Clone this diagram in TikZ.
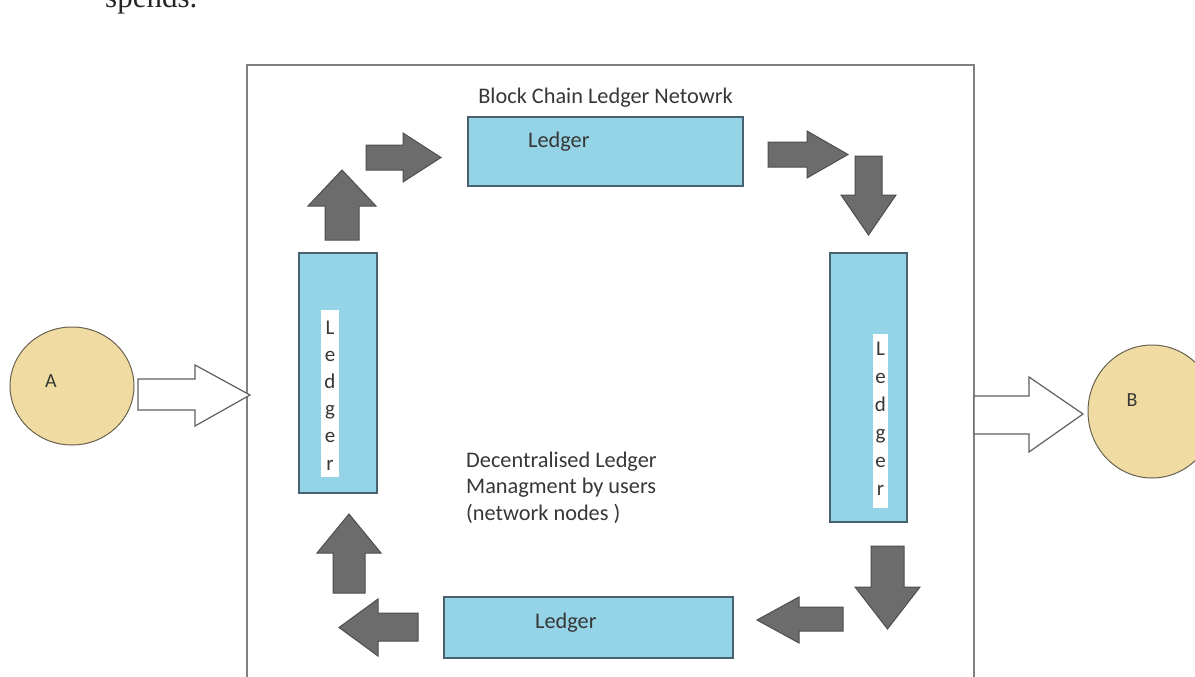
\documentclass[tikz,border=0pt]{standalone}
\usepackage{fontspec}
\setmainfont{Carlito}
\newfontfamily\pagefont{Liberation Serif}
\usetikzlibrary{shapes.geometric}
\definecolor{ledgerfill}{RGB}{148,212,230}
\definecolor{ledgerline}{RGB}{72,98,112}
\definecolor{arrowfill}{RGB}{108,108,108}
\definecolor{arrowline}{RGB}{78,78,78}
\definecolor{circfill}{RGB}{240,220,162}
\definecolor{circline}{RGB}{105,98,80}
\definecolor{frameline}{RGB}{128,128,128}
\definecolor{hollowline}{RGB}{96,96,96}
\definecolor{txt}{RGB}{55,55,55}
\tikzset{
  ledger/.style={draw=ledgerline, fill=ledgerfill, line width=1.5pt, inner sep=0pt, outer sep=0pt, anchor=north west},
  blockarrow/.style={draw=arrowline, fill=arrowfill, line width=1pt, line join=miter},
  hollowarrow/.style={draw=hollowline, fill=white, line width=1.2pt, line join=miter},
  party/.style={ellipse, draw=circline, fill=circfill, line width=1pt, inner sep=0pt},
  lbl/.style={text=txt, font=\fontsize{22.3}{26.5}\selectfont, inner sep=0pt},
  vword/.style={text=txt, align=center, inner sep=0pt, anchor=base},
  strip/.style={fill=white, draw=none},
  frame/.style={draw=frameline, line width=2pt, line join=miter},
}
\begin{document}
\begin{tikzpicture}[x=1pt, y=-1pt]
\useasboundingbox (0,0) rectangle (1195,677);
\clip (0,0) rectangle (1195,677);
\fill[white] (0,0) rectangle (1195,677);

% cut-off page text
\node[anchor=base west, inner sep=0pt, font=\pagefont\fontsize{31}{31}\selectfont, text=black!85] (spends) at (105,8) {spends.};

% network frame (open at the bottom)
\draw[frame] (247,680) -- (247,65) -- (974,65) -- (974,680);

\node[lbl, anchor=base] (title) at (605.5,103) {Block Chain Ledger Netowrk};

% ledgers
\node[ledger, minimum width=275pt, minimum height=69pt] (ltop) at (468,117) {};
\node[lbl, anchor=base west] (ltoptext) at (528,147) {Ledger};

\node[ledger, minimum width=77pt, minimum height=269pt] (lright) at (830,253) {};
\fill[strip] (873,334) rectangle (888,508);
\node[vword, font=\fontsize{21}{28}\selectfont] (lrighttext) at (880.5,495) {L\\e\\d\\g\\e\\r};

\node[ledger, minimum width=78pt, minimum height=240pt] (lleft) at (299,253) {};
\fill[strip] (321,310) rectangle (339,477);
\node[vword, font=\fontsize{21}{27.2}\selectfont] (llefttext) at (330,470) {L\\e\\d\\g\\e\\r};

\node[ledger, minimum width=289pt, minimum height=61pt] (lbottom) at (444,597) {};
\node[lbl, anchor=base west] (lbottomtext) at (535,628) {Ledger};

\node[lbl, anchor=base west, align=left] (caption) at (466,520) {Decentralised Ledger\\Managment by users\\(network nodes )};

% block arrows of the cycle
\path[blockarrow] (325,240) -- (325,206) -- (308,206) -- (342,170) -- (376,206) -- (359,206) -- (359,240) -- cycle;
\path[blockarrow] (366,145) -- (403,145) -- (403,133) -- (441,157.5) -- (403,182) -- (403,170) -- (366,170) -- cycle;
\path[blockarrow] (768,142) -- (807,142) -- (807,131) -- (848,154.5) -- (807,178) -- (807,167) -- (768,167) -- cycle;
\path[blockarrow] (855,156) -- (882,156) -- (882,195) -- (896,195) -- (868.5,235) -- (841,195) -- (855,195) -- cycle;
\path[blockarrow] (871,546) -- (904,546) -- (904,587) -- (920,587) -- (887.5,629) -- (855,587) -- (871,587) -- cycle;
\path[blockarrow] (843,607) -- (799,607) -- (799,597) -- (757,620) -- (799,643) -- (799,631) -- (843,631) -- cycle;
\path[blockarrow] (418,613) -- (378,613) -- (378,599) -- (339,627.5) -- (378,656) -- (378,641) -- (418,641) -- cycle;
\path[blockarrow] (333,593) -- (333,553) -- (317,553) -- (349,514) -- (381,553) -- (365,553) -- (365,593) -- cycle;

% parties
\node[party, minimum width=124pt, minimum height=118pt] (A) at (72,386) {};
\node[lbl, font=\fontsize{20}{20}\selectfont] (Atext) at (51,381) {A};
\node[party, minimum width=128pt, minimum height=133pt] (B) at (1152,411.5) {};
\node[lbl, font=\fontsize{20}{20}\selectfont] (Btext) at (1132,400) {B};

% hollow arrows in and out of the network
\path[hollowarrow] (138,379) -- (195,379) -- (195,365) -- (250,395) -- (195,426) -- (195,410) -- (138,410) -- cycle;
\path[hollowarrow] (974,396) -- (1029,396) -- (1029,377) -- (1083,414) -- (1029,452) -- (1029,434) -- (974,434) -- cycle;
\end{tikzpicture}
\end{document}
